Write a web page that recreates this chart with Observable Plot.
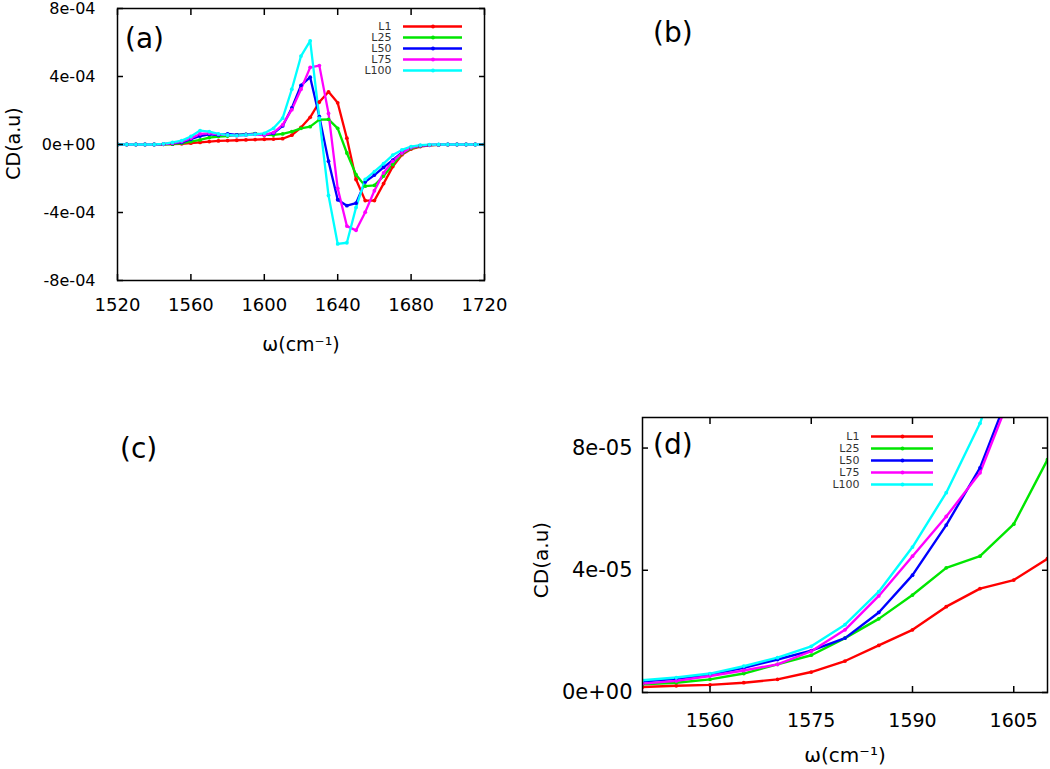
<!DOCTYPE html>
<html><head><meta charset="utf-8">
<script src="https://cdn.jsdelivr.net/npm/d3@7"></script>
<script src="https://cdn.jsdelivr.net/npm/@observablehq/plot@0.6"></script>
<style>
body{margin:0;background:#fff;}
#root{position:relative;width:1050px;height:769px;overflow:hidden;background:#fff;}
#root svg{position:absolute;}
.plabel{position:absolute;font-family:"DejaVu Sans";font-size:28px;line-height:28px;color:#000;white-space:nowrap;}
</style></head><body><div id="root"></div>
<script>
// ---------- shared ----------
const series = ["L1", "L25", "L50", "L75", "L100"];
const seriesColors = ["#ff0000", "#00e600", "#0000ff", "#ff00ff", "#00ffff"];

// ---------- panel (a) ----------
const omegaA = [1520,1525,1530,1535,1540,1545,1550,1555,1560,1565,1570,1575,1580,1585,1590,1595,1600,1605,1610,1615,1620,1625,1630,1635,1640,1645,1650,1655,1660,1665,1670,1675,1680,1685,1690,1695,1700,1705,1710,1715,1720];
const cdA_L1   = [0,0,0,0,0,1e-6,2e-6,4e-6,8e-6,1.2e-5,1.7e-5,2.1e-5,2.3e-5,2.5e-5,2.7e-5,2.9e-5,3.1e-5,3.2e-5,3.4e-5,5.5e-5,1.0e-4,1.6e-4,2.5e-4,3.1e-4,2.45e-4,3.7e-5,-2.06e-4,-3.3e-4,-3.3e-4,-2.3e-4,-1.3e-4,-6.0e-5,-2.7e-5,-1.2e-5,-5e-6,-2e-6,-1e-6,0,0,0,0];
const cdA_L25  = [0,0,0,0,0,1e-6,2e-6,8e-6,1.7e-5,2.7e-5,4.1e-5,4.7e-5,5.0e-5,5.6e-5,6.0e-5,6.4e-5,5.8e-5,5.6e-5,6.2e-5,7.6e-5,9.5e-5,1.05e-4,1.46e-4,1.48e-4,9.5e-5,-5.0e-5,-1.78e-4,-2.45e-4,-2.4e-4,-1.86e-4,-1.18e-4,-5.4e-5,-2.3e-5,-1.0e-5,-4e-6,-2e-6,0,0,0,0,0];
const cdA_L50  = [0,0,0,0,0,2e-6,6e-6,1.2e-5,3.1e-5,5.0e-5,6.0e-5,5.6e-5,6.2e-5,5.6e-5,6.0e-5,6.2e-5,5.6e-5,6.6e-5,1.09e-4,2.15e-4,3.48e-4,3.96e-4,1.64e-4,-9.8e-5,-3.25e-4,-3.6e-4,-3.45e-4,-2.2e-4,-1.8e-4,-1.35e-4,-9.2e-5,-4.7e-5,-1.7e-5,-7e-6,-3e-6,-1e-6,0,0,0,0,0];
const cdA_L75  = [0,0,0,0,0,2e-6,8e-6,1.7e-5,3.7e-5,6.2e-5,6.6e-5,6.0e-5,5.6e-5,5.2e-5,5.6e-5,6.0e-5,5.6e-5,7.0e-5,1.15e-4,2.05e-4,3.25e-4,4.54e-4,4.64e-4,1.83e-4,-2.58e-4,-4.8e-4,-5.05e-4,-3.98e-4,-2.72e-4,-1.67e-4,-9.9e-5,-5.0e-5,-1.8e-5,-7e-6,-3e-6,-1e-6,0,0,0,0,0];
const cdA_L100 = [0,0,0,0,0,4e-6,1.2e-5,2.3e-5,4.7e-5,8.2e-5,7.6e-5,6.2e-5,5.6e-5,5.2e-5,5.6e-5,6.0e-5,6.6e-5,9.5e-5,1.55e-4,3.25e-4,5.2e-4,6.1e-4,1.55e-4,-3.0e-4,-5.85e-4,-5.78e-4,-3.7e-4,-2.05e-4,-1.6e-4,-1.12e-4,-6.2e-5,-3.2e-5,-1.2e-5,-4e-6,-1e-6,0,0,0,0,0,0];
const xTicksA = [1520, 1560, 1600, 1640, 1680, 1720];
const xTickLabelsA = ["1520", "1560", "1600", "1640", "1680", "1720"];
const yTicksA = [-8e-4, -4e-4, 0, 4e-4, 8e-4];
const yTickLabelsA = ["-8e-04", "-4e-04", "0e+00", "4e-04", "8e-04"];

// ---------- panel (d) ----------
const omegaD = [1550,1555,1560,1565,1570,1575,1580,1585,1590,1595,1600,1605,1610];
const cdD_L1   = [1.8e-6,2.2e-6,2.5e-6,3.2e-6,4.3e-6,6.7e-6,1.03e-5,1.54e-5,2.05e-5,2.81e-5,3.40e-5,3.68e-5,4.38e-5];
const cdD_L25  = [2.7e-6,3.2e-6,4.3e-6,6.2e-6,9.2e-6,1.22e-5,1.78e-5,2.41e-5,3.19e-5,4.08e-5,4.46e-5,5.51e-5,7.62e-5];
const cdD_L50  = [3.6e-6,4.5e-6,5.9e-6,8.1e-6,1.08e-5,1.37e-5,1.78e-5,2.62e-5,3.84e-5,5.48e-5,7.35e-5,1.02e-4,null];
const cdD_L75  = [2.9e-6,3.8e-6,5.4e-6,7.2e-6,9.2e-6,1.35e-5,2.05e-5,3.16e-5,4.46e-5,5.76e-5,7.19e-5,1.0e-4,null];
const cdD_L100 = [4.0e-6,4.9e-6,6.2e-6,8.6e-6,1.14e-5,1.51e-5,2.22e-5,3.30e-5,4.76e-5,6.54e-5,8.81e-5,1.2e-4,null];
const xTicksD = [1560, 1575, 1590, 1605];
const xTickLabelsD = ["1560", "1575", "1590", "1605"];
const yTicksD = [0, 4e-5, 8e-5];
const yTickLabelsD = ["0e+00", "4e-05", "8e-05"];

const xTitle = "ω(cm⁻¹)";
const yTitle = "CD(a.u)";
const panelLabels = ["(a)", "(b)", "(c)", "(d)"];

// ---------- build tidy rows ----------
function rows(omega, arrays) {
  const out = [];
  arrays.forEach((arr, s) => arr.forEach((v, i) => {
    if (v !== null) out.push({series: series[s], omega: omega[i], cd: v});
  }));
  return out;
}
const rowsA = rows(omegaA, [cdA_L1, cdA_L25, cdA_L50, cdA_L75, cdA_L100]);
const rowsD = rows(omegaD, [cdD_L1, cdD_L25, cdD_L50, cdD_L75, cdD_L100]);

const font = "DejaVu Sans";
const baseStyle = {background: "transparent", fontFamily: font, color: "#000", overflow: "visible"};
const colorScale = {domain: series, range: seriesColors};

function panel({data, width, height, margins, xDomain, yDomain, xTicks, xLabels, yTicks, yLabels,
                xFont, yFont, xPad, yPad, titleFont, xTitleDy, yTitleDx, yTitleDy, lineW}) {
  return Plot.plot({
    width, height, ...margins,
    style: baseStyle,
    x: {domain: xDomain},
    y: {domain: yDomain},
    color: colorScale,
    marks: [
      Plot.line(data, {x: "omega", y: "cd", z: "series", stroke: "series", strokeWidth: lineW, clip: true}),
      Plot.dot(data, {x: "omega", y: "cd", fill: "series", r: 1.9, clip: true}),
      Plot.frame({stroke: "#000", strokeWidth: 1.5}),
      Plot.axisX({ticks: xTicks, tickSize: -6, tickPadding: xPad, strokeWidth: 1.5, fontSize: xFont, label: null,
                  tickFormat: d => xLabels[xTicks.indexOf(d)]}),
      Plot.axisX({anchor: "top", ticks: xTicks, tickSize: -6, strokeWidth: 1.5, fill: "none", label: null}),
      Plot.axisY({ticks: yTicks, tickSize: -6, tickPadding: yPad, strokeWidth: 1.5, fontSize: yFont, label: null,
                  tickFormat: d => yLabels[yTicks.indexOf(d)]}),
      Plot.axisY({anchor: "right", ticks: yTicks, tickSize: -6, strokeWidth: 1.5, fill: "none", label: null}),
      Plot.text([xTitle], {text: d => d, frameAnchor: "bottom", dy: xTitleDy, lineAnchor: "middle", textAnchor: "middle", fontSize: titleFont, fill: "#000"}),
      Plot.text([yTitle], {text: d => d, frameAnchor: "left", dx: yTitleDx, dy: yTitleDy, rotate: -90, lineAnchor: "middle", textAnchor: "middle", fontSize: titleFont, fill: "#000"})
    ]
  });
}

function legend({width, height, margins, textDx}) {
  return Plot.plot({
    width, height, ...margins,
    style: baseStyle,
    y: {type: "point", domain: series, padding: 0, axis: null},
    color: colorScale,
    marks: [
      Plot.ruleY(series, {y: d => d, stroke: d => d, strokeWidth: 2.4}),
      Plot.dot(series, {y: d => d, fill: d => d, r: 1.9, frameAnchor: "middle"}),
      Plot.text(series, {y: d => d, text: d => d, frameAnchor: "left", dx: textDx, textAnchor: "end", lineAnchor: "middle", fontSize: 11, fill: "#333"})
    ]
  });
}

const root = document.getElementById("root");
function place(el, left, top) { el.style.left = left + "px"; el.style.top = top + "px"; root.appendChild(el); }

const svgA = panel({
  data: rowsA, width: 520, height: 370,
  margins: {marginLeft: 117, marginRight: 36, marginTop: 8, marginBottom: 90},
  xDomain: [1520, 1720], yDomain: [-8e-4, 8e-4],
  xTicks: xTicksA, xLabels: xTickLabelsA, yTicks: yTicksA, yLabels: yTickLabelsA,
  xFont: 18, yFont: 16, xPad: 24, yPad: 28, titleFont: 19,
  xTitleDy: 64, yTitleDx: -104, yTitleDy: -1, lineW: 2.3
});
place(svgA, 0, 0);

const svgD = panel({
  data: rowsD, width: 530, height: 369,
  margins: {marginLeft: 122, marginRight: 3, marginTop: 17, marginBottom: 77},
  xDomain: [1550, 1610], yDomain: [0, 9e-5],
  xTicks: xTicksD, xLabels: xTickLabelsD, yTicks: yTicksD, yLabels: yTickLabelsD,
  xFont: 19, yFont: 21, xPad: 27, yPad: 16, titleFont: 20,
  xTitleDy: 63, yTitleDx: -101, yTitleDy: 5, lineW: 2.4
});
place(svgD, 520, 400);

place(legend({width: 130, height: 68, margins: {marginLeft: 63, marginRight: 8, marginTop: 10, marginBottom: 11}, textDx: -12}), 340, 14);
place(legend({width: 140, height: 72, margins: {marginLeft: 71, marginRight: 7, marginTop: 12, marginBottom: 12}, textDx: -12}), 800, 424);

const labelPos = [[125, 25], [653, 19], [120, 435], [653, 431]];
panelLabels.forEach((t, i) => {
  const d = document.createElement("div");
  d.className = "plabel";
  d.textContent = t;
  place(d, labelPos[i][0], labelPos[i][1]);
});
</script></body></html>
